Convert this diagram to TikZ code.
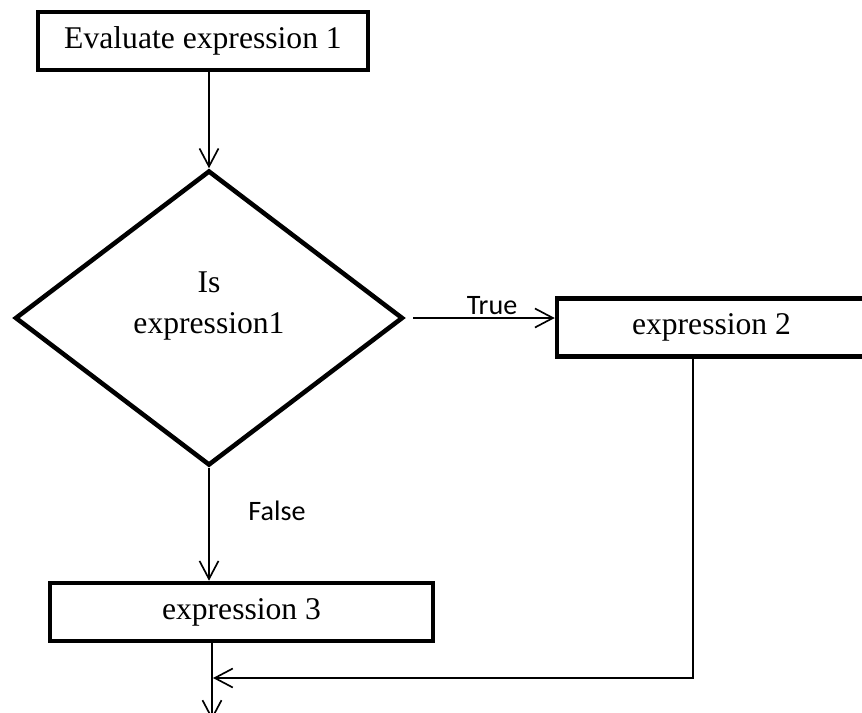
\documentclass[tikz,border=0pt]{standalone}
\usepackage{fontspec}
\setmainfont{Liberation Serif}
\newfontfamily\labelfont{Carlito}
\usetikzlibrary{arrows.meta,shapes}
\tikzstyle{process}=[draw,rectangle,black,line width=2.6pt,minimum height=1.16cm,inner sep=0pt,font=\fontsize{18}{23}\selectfont]
\tikzstyle{decision}=[draw,diamond,black,line width=2.6pt,minimum width=7.76cm,minimum height=5.9cm,inner sep=0pt]
\tikzstyle{edge} = [solid,black,draw,line width=0.95pt,-{Straight Barb[length=0.36cm,width=0.38cm]}]
\tikzstyle{tag}=[inner sep=0pt,font=\labelfont\fontsize{16}{18}\selectfont]

\begin{document}
\begin{tikzpicture}[x=0.02cm,y=-0.02cm]
	\useasboundingbox (0,0) rectangle (862,713);
	\node[process,minimum width=6.6cm] (eval) at (203,41) {Evaluate expression 1};
	\node[decision] (dec) at (209,318) {};
	\node[align=center,inner sep=0pt,font=\fontsize{18}{23}\selectfont] (ask) at (209,306) {Is\\expression1};
	\node[process,minimum width=6.18cm] (expr2) at (711.5,327.5) {expression 2};
	\node[process,minimum width=7.66cm] (expr3) at (241.5,612) {expression 3};
	\node[tag] (yes) at (492,306) {True};
	\node[tag] (no) at (277,511) {False};
	\coordinate (bend) at (693,678);
	\coordinate (join) at (213,678);
	\coordinate (out) at (212,720);
	\path[edge] (dec.north |- eval.south) -- (dec.north);
	\path[edge,shorten <=0.16cm] (dec.east) -- (dec.east -| expr2.west);
	\path[edge] (dec.south) -- (dec.south |- expr3.north);
	\path[edge] (expr2.south -| bend) -- (bend) -- (join);
	\path[edge] (expr3.south -| out) -- (out);
\end{tikzpicture}
\end{document}
